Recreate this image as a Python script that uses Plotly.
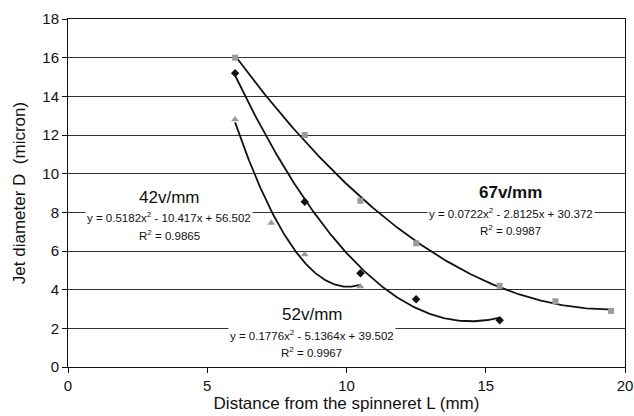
import numpy as np
import plotly.graph_objects as go

# ---- data ----
x_67 = [6.0, 8.5, 10.5, 12.5, 15.5, 17.5, 19.5]
y_67 = [16.0, 12.0, 8.6, 6.4, 4.2, 3.4, 2.9]

x_52 = [6.0, 8.5, 10.5, 12.5, 15.5]
y_52 = [15.2, 8.55, 4.85, 3.5, 2.42]

x_42 = [6.0, 7.3, 8.5, 10.5]
y_42 = [12.8, 7.45, 5.82, 4.17]

# trendline coefficients printed on the chart (a, b, c for a*x^2 + b*x + c)
coef_67 = [0.0722, -2.8125, 30.372]
coef_52 = [0.1776, -5.1364, 39.502]
coef_42 = [0.5182, -10.417, 56.502]

r2_67 = "0.9987"
r2_52 = "0.9967"
r2_42 = "0.9865"

x_ticks = [0, 5, 10, 15, 20]
y_ticks = [0, 2, 4, 6, 8, 10, 12, 14, 16, 18]

FONT = "Liberation Sans, Arial, sans-serif"
GRAY = "#9b9b9b"

fig = go.Figure()


def trend(xs, coef):
    xx = np.linspace(min(xs), max(xs), 200)
    return xx, np.polyval(coef, xx)


for xs, coef in [(x_67, coef_67), (x_52, coef_52), (x_42, coef_42)]:
    tx, ty = trend(xs, coef)
    fig.add_trace(go.Scatter(x=tx, y=ty, mode="lines",
                             line=dict(color="#111111", width=1.8),
                             hoverinfo="skip", showlegend=False))

fig.add_trace(go.Scatter(x=x_67, y=y_67, mode="markers", name="67v/mm",
                         marker=dict(symbol="square", size=6, color=GRAY),
                         showlegend=False))
fig.add_trace(go.Scatter(x=x_52, y=y_52, mode="markers", name="52v/mm",
                         marker=dict(symbol="diamond", size=6.5, color="#111111"),
                         showlegend=False))
fig.add_trace(go.Scatter(x=x_42, y=y_42, mode="markers", name="42v/mm",
                         marker=dict(symbol="triangle-up", size=7, color=GRAY),
                         showlegend=False))


def eq_text(c):
    def fmt(v):
        return ("%g" % abs(v))
    s1 = "-" if c[1] < 0 else "+"
    s2 = "-" if c[2] < 0 else "+"
    return "y = %sx<sup>2</sup> %s %sx %s %s" % (fmt(c[0]), s1, fmt(c[1]), s2, "%.3f" % abs(c[2]))


labels = [
    # name, x, y_name, y_eq, y_r2, coef, r2, bold
    ("42v/mm", 3.63, 8.77, 7.74, 6.84, coef_42, r2_42, False),
    ("52v/mm", 8.75, 2.71, 1.67, 0.79, coef_52, r2_52, False),
    ("67v/mm", 15.9, 9.01, 7.97, 7.10, coef_67, r2_67, True),
]
for name, xc, yn, ye, yr, coef, r2, bold in labels:
    fig.add_annotation(x=xc, y=yn, xref="x", yref="y", showarrow=False,
                       text=("<b>%s</b>" % name) if bold else name,
                       font=dict(family=FONT, size=17, color="#111111"))
    fig.add_annotation(x=xc, y=ye, xref="x", yref="y", showarrow=False,
                       text=eq_text(coef), bgcolor="white", borderpad=1,
                       font=dict(family=FONT, size=11.5, color="#111111"))
    fig.add_annotation(x=xc, y=yr, xref="x", yref="y", showarrow=False,
                       text="R<sup>2</sup> = %s" % r2,
                       font=dict(family=FONT, size=11.5, color="#111111"))

fig.update_layout(
    width=634, height=416,
    margin=dict(l=68, r=9, t=19, b=49, autoexpand=False),
    paper_bgcolor="white", plot_bgcolor="white",
    font=dict(family=FONT, size=15, color="#111111"),
    xaxis=dict(range=[0, 20], tickvals=x_ticks, showgrid=False, zeroline=False,
               showline=True, linecolor="#111111", linewidth=1, mirror=True,
               ticks="outside", ticklen=5, tickcolor="#111111",
               tickfont=dict(size=15),
               title=dict(text="Distance from the spinneret L (mm)",
                          font=dict(size=17), standoff=4)),
    yaxis=dict(range=[0, 18], tickvals=y_ticks, showgrid=True,
               gridcolor="#333333", gridwidth=1, zeroline=False,
               showline=True, linecolor="#111111", linewidth=1, mirror=True,
               ticks="outside", ticklen=5, tickcolor="#111111",
               tickfont=dict(size=15),
               title=dict(text="Jet diameter D&nbsp; (micron)",
                          font=dict(size=17), standoff=12)),
)

fig.write_html("out.html",
               config={"displayModeBar": False},
               post_script="document.body.style.margin='0';"
                           "document.body.style.overflow='hidden';")
